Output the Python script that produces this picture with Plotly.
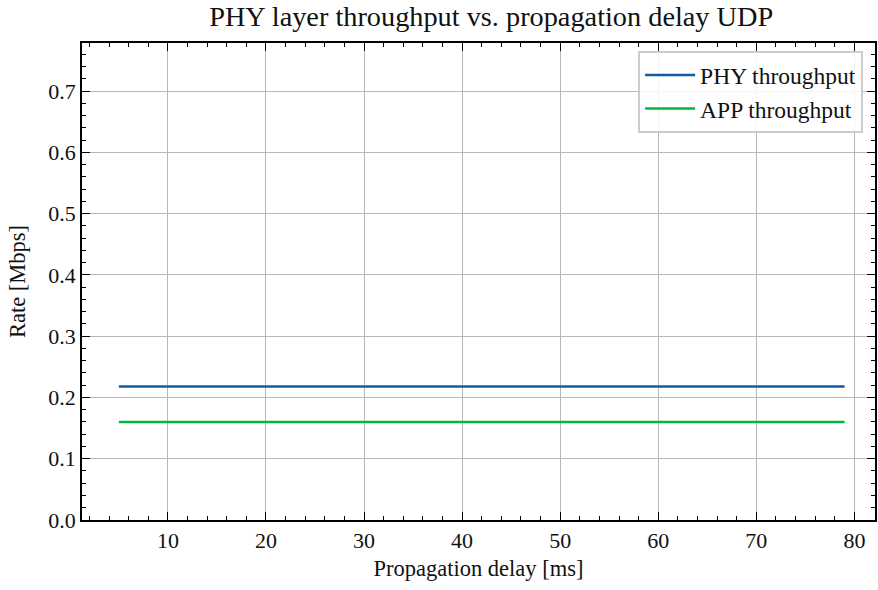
import plotly.graph_objects as go

delay_ms = [5, 10, 15, 20, 25, 30, 35, 40, 45, 50, 55, 60, 65, 70, 75, 79]
phy_throughput = [0.218] * len(delay_ms)
app_throughput = [0.160] * len(delay_ms)

font_family = "Liberation Serif, Times New Roman, serif"

fig = go.Figure()
fig.add_trace(go.Scatter(x=delay_ms, y=phy_throughput, mode="lines", name="PHY throughput",
                         line=dict(color="#0C5DA5", width=2.5)))
fig.add_trace(go.Scatter(x=delay_ms, y=app_throughput, mode="lines", name="APP throughput",
                         line=dict(color="#00B945", width=2.5)))

axis_common = dict(
    showline=True, linecolor="black", linewidth=1.5, mirror="ticks",
    ticks="inside", ticklen=8, tickwidth=1.2, tickcolor="black",
    showgrid=True, gridcolor="#b8b8b8", gridwidth=1,
    zeroline=False,
    tickfont=dict(family=font_family, size=22, color="#111"),
)

fig.update_xaxes(
    range=[1.24, 82.1], tickmode="linear", tick0=0, dtick=10,
    minor=dict(ticks="inside", ticklen=4, tickwidth=1, tickcolor="black", dtick=2, tick0=0, showgrid=False),
    title=dict(text="Propagation delay [ms]", font=dict(family=font_family, size=22.5, color="#111"), standoff=8),
    **axis_common,
)
fig.update_yaxes(
    range=[0, 0.7785], tickmode="linear", tick0=0, dtick=0.1, tickformat=".1f",
    minor=dict(ticks="inside", ticklen=4, tickwidth=1, tickcolor="black", dtick=0.02, tick0=0, showgrid=False),
    title=dict(text="Rate [Mbps]", font=dict(family=font_family, size=22.5, color="#111"), standoff=16),
    **axis_common,
)

fig.update_layout(
    width=878, height=590,
    margin=dict(l=82, r=1, t=43, b=70),
    paper_bgcolor="white", plot_bgcolor="white",
    title=dict(text="PHY layer throughput vs. propagation delay UDP", xref="paper", x=0.516, xanchor="center",
               y=0.972, yanchor="middle", font=dict(family=font_family, size=28.3, color="#111")),
    legend=dict(x=0.985, y=0.983, xanchor="right", yanchor="top", itemwidth=50,
                bgcolor="rgba(255,255,255,0.85)", bordercolor="#cccccc", borderwidth=2,
                font=dict(family=font_family, size=23.5, color="#111")),
    showlegend=True,
)

fig.write_html("out.html")
